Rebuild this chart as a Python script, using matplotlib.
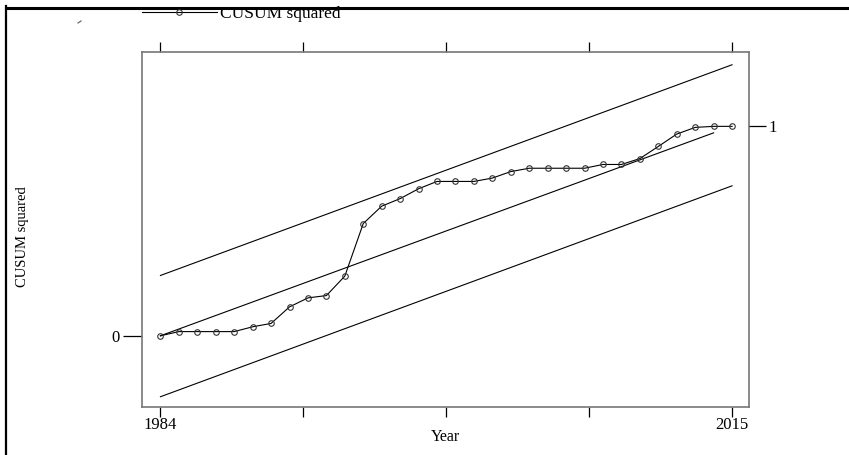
import matplotlib.pyplot as plt
from matplotlib.lines import Line2D

# CUSUM of squares
years = list(range(1984, 2016))
cusum_sq = [0.0, 0.02, 0.02, 0.02, 0.02, 0.043, 0.059, 0.138,
            0.181, 0.192, 0.285, 0.536, 0.619, 0.655, 0.702, 0.737,
            0.737, 0.737, 0.753, 0.784, 0.80, 0.80, 0.80, 0.80,
            0.818, 0.818, 0.846, 0.904, 0.963, 0.995, 1.0, 1.0]

# expected path and 5% bounds (end points)
mean_x = [1984, 2014]
mean_y = [0.0, 0.969]
bound_x = [1984, 2015]
upper_y = [0.288, 1.294]
lower_y = [-0.291, 0.716]

xtick_pos = [1984, 1991.75, 1999.5, 2007.25, 2015]
xtick_labels = ['1984', '', '', '', '2015']

plt.rcParams['font.family'] = ['Liberation Serif', 'DejaVu Serif']

W, H = 849, 455
fig = plt.figure(figsize=(W / 100, H / 100), dpi=100)
ax = fig.add_axes([142 / W, 1 - 407 / H, (749 - 142) / W, (407 - 52) / H])

ax.plot(bound_x, upper_y, color='black', lw=0.8)
ax.plot(bound_x, lower_y, color='black', lw=0.8)
ax.plot(mean_x, mean_y, color='black', lw=0.8)
line, = ax.plot(years, cusum_sq, color='black', lw=0.8, marker='o', ms=4,
                mfc='none', mec='#333333', mew=0.8, label='CUSUM squared')

ax.set_xlim(1983.0, 2015.92)
ax.set_ylim(-0.34, 1.355)

for s in ax.spines.values():
    s.set_color('#777777')
    s.set_linewidth(1.2)

ax.set_xticks(xtick_pos)
ax.set_xticklabels(xtick_labels)
ax.tick_params(axis='x', which='both', top=True, bottom=True, direction='out',
               length=7, width=0.9, color='black', labelsize=12, pad=0)
ax.set_yticks([0])
ax.set_yticklabels(['0'])
ax.tick_params(axis='y', direction='out', length=14, width=0.9, color='black',
               labelsize=12, pad=2)

# right axis carries the single tick at 1
ax2 = ax.twinx()
ax2.set_ylim(ax.get_ylim())
ax2.set_yticks([1])
ax2.set_yticklabels(['1'])
ax2.tick_params(axis='y', direction='out', length=12, width=0.9, color='black',
                labelsize=12, pad=2)
for s in ax2.spines.values():
    s.set_visible(False)

ax.set_xlabel('Year', fontsize=11.5, labelpad=-3)
fig.text(23 / W, 1 - 237 / H, 'CUSUM squared', rotation=90, fontsize=10.5,
         ha='center', va='center')

fig.legend(handles=[line], loc='center left', frameon=False,
           bbox_to_anchor=(142 / W, 1 - 14 / H), borderpad=0, borderaxespad=0,
           handlelength=4.3, handletextpad=0.2, numpoints=1, fontsize=12.5)

# outer frame pieces and the stray mark
fig.add_artist(Line2D([6.3 / W, 6.3 / W], [0, 1 - 6 / H], color='black', lw=1.6,
                      transform=fig.transFigure))
fig.add_artist(Line2D([5.5 / W, 1], [1 - 7.5 / H, 1 - 7.5 / H], color='black',
                      lw=2.2, transform=fig.transFigure))
fig.add_artist(Line2D([78 / W, 81 / W], [1 - 23 / H, 1 - 21 / H], color='#555555',
                      lw=0.8, transform=fig.transFigure))

fig.savefig('out.png', dpi=100)
